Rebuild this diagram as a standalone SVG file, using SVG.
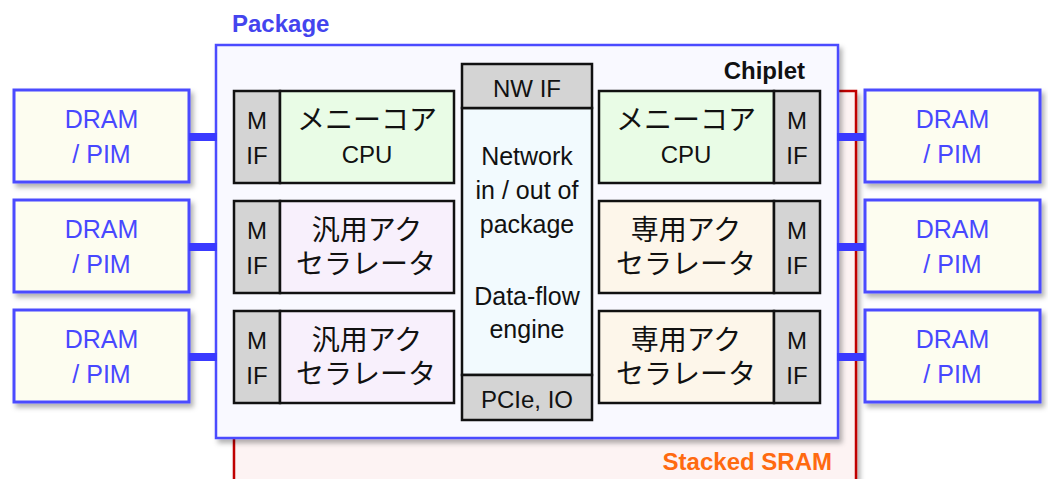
<svg xmlns="http://www.w3.org/2000/svg" width="1048" height="479" viewBox="0 0 1048 479">
<defs>
<filter id="sh" x="-10%" y="-10%" width="130%" height="130%">
<feDropShadow dx="3" dy="4" stdDeviation="2.5" flood-color="#000" flood-opacity="0.3"/>
</filter>
<style>
.dram{fill:#fdfdf0;stroke:#4b4bff;stroke-width:3}
.dt{font-family:"Liberation Sans",Arial,sans-serif;font-size:25px;fill:#4848ff;text-anchor:middle}
.blk{stroke:#111;stroke-width:2.5}
.mif{fill:#d4d4d4}
.cpu{fill:#e9fce6}
.gen{fill:#f8f0fc}
.ded{fill:#fdf6ea}
.col{fill:#f2fafe}
.lt{font-family:"Liberation Sans",Arial,sans-serif;font-size:24px;fill:#111;text-anchor:middle}
.ct{font-family:"Liberation Sans",Arial,sans-serif;font-size:25px;fill:#111;text-anchor:middle}
.jt{font-family:"Noto Sans CJK JP",sans-serif;font-size:28px;fill:#111;text-anchor:middle}
.conn{stroke:#3a3aff;stroke-width:8}
.title{font-family:"Liberation Sans",Arial,sans-serif;font-size:24px;font-weight:bold}
</style>
</defs>

<g id="stacked-sram">
<rect x="234" y="91" width="622" height="420" fill="#fdf3f3" stroke="#c00000" stroke-width="2.5" filter="url(#sh)"/>
<text class="title" x="832" y="470" fill="#ff6a10" text-anchor="end">Stacked SRAM</text>
</g>

<g id="package">
<rect x="216" y="45" width="622" height="393" fill="#f9f9ff" stroke="#4b4bff" stroke-width="2.5" filter="url(#sh)"/>
<text class="title" x="232" y="32" fill="#4444ee">Package</text>
<text class="title" x="805" y="79" fill="#111" text-anchor="end">Chiplet</text>
</g>

<g id="dram-l1"><rect class="dram" x="14" y="90" width="175" height="92" filter="url(#sh)"/><text class="dt" x="101.5" y="128">DRAM</text><text class="dt" x="101.5" y="163">/ PIM</text></g>
<g id="dram-l2"><rect class="dram" x="14" y="200" width="175" height="92" filter="url(#sh)"/><text class="dt" x="101.5" y="238">DRAM</text><text class="dt" x="101.5" y="273">/ PIM</text></g>
<g id="dram-l3"><rect class="dram" x="14" y="310" width="175" height="92" filter="url(#sh)"/><text class="dt" x="101.5" y="348">DRAM</text><text class="dt" x="101.5" y="383">/ PIM</text></g>
<g id="dram-r1"><rect class="dram" x="865" y="90" width="175" height="92" filter="url(#sh)"/><text class="dt" x="952.5" y="128">DRAM</text><text class="dt" x="952.5" y="163">/ PIM</text></g>
<g id="dram-r2"><rect class="dram" x="865" y="200" width="175" height="92" filter="url(#sh)"/><text class="dt" x="952.5" y="238">DRAM</text><text class="dt" x="952.5" y="273">/ PIM</text></g>
<g id="dram-r3"><rect class="dram" x="865" y="310" width="175" height="92" filter="url(#sh)"/><text class="dt" x="952.5" y="348">DRAM</text><text class="dt" x="952.5" y="383">/ PIM</text></g>

<g id="connectors">
<line class="conn" x1="189" y1="137" x2="217" y2="137"/>
<line class="conn" x1="189" y1="247" x2="217" y2="247"/>
<line class="conn" x1="189" y1="357" x2="217" y2="357"/>
<line class="conn" x1="837" y1="137" x2="865" y2="137"/>
<line class="conn" x1="837" y1="247" x2="865" y2="247"/>
<line class="conn" x1="837" y1="357" x2="865" y2="357"/>
</g>

<g id="left-cpu">
<rect class="blk mif" x="234" y="91" width="46" height="92"/>
<rect class="blk cpu" x="280" y="91" width="174" height="92"/>
<text class="lt" x="257" y="129">M</text><text class="lt" x="257" y="164">IF</text>
<text class="jt" x="367" y="130">メニーコア</text>
<text class="lt" x="367" y="163">CPU</text>
</g>
<g id="left-acc1">
<rect class="blk mif" x="234" y="201" width="46" height="92"/>
<rect class="blk gen" x="280" y="201" width="174" height="92"/>
<text class="lt" x="257" y="239">M</text><text class="lt" x="257" y="274">IF</text>
<text class="jt" x="367" y="240">汎用アク</text>
<text class="jt" x="366" y="274">セラレータ</text>
</g>
<g id="left-acc2">
<rect class="blk mif" x="234" y="311" width="46" height="92"/>
<rect class="blk gen" x="280" y="311" width="174" height="92"/>
<text class="lt" x="257" y="349">M</text><text class="lt" x="257" y="384">IF</text>
<text class="jt" x="367" y="350">汎用アク</text>
<text class="jt" x="366" y="384">セラレータ</text>
</g>

<g id="right-cpu">
<rect class="blk cpu" x="599" y="91" width="175" height="92"/>
<rect class="blk mif" x="774" y="91" width="46" height="92"/>
<text class="lt" x="797" y="129">M</text><text class="lt" x="797" y="164">IF</text>
<text class="jt" x="686" y="130">メニーコア</text>
<text class="lt" x="686" y="163">CPU</text>
</g>
<g id="right-acc1">
<rect class="blk ded" x="599" y="201" width="175" height="92"/>
<rect class="blk mif" x="774" y="201" width="46" height="92"/>
<text class="lt" x="797" y="239">M</text><text class="lt" x="797" y="274">IF</text>
<text class="jt" x="686" y="240">専用アク</text>
<text class="jt" x="686" y="274">セラレータ</text>
</g>
<g id="right-acc2">
<rect class="blk ded" x="599" y="311" width="175" height="92"/>
<rect class="blk mif" x="774" y="311" width="46" height="92"/>
<text class="lt" x="797" y="349">M</text><text class="lt" x="797" y="384">IF</text>
<text class="jt" x="686" y="350">専用アク</text>
<text class="jt" x="686" y="384">セラレータ</text>
</g>

<g id="center-column">
<rect class="blk col" x="462" y="108" width="130" height="267"/>
<rect class="blk mif" x="462" y="64" width="130" height="44"/>
<rect class="blk mif" x="462" y="375" width="130" height="45"/>
<text class="lt" x="527" y="97">NW IF</text>
<text class="lt" x="527" y="408">PCIe, IO</text>
<text class="ct" x="527" y="165">Network</text>
<text class="ct" x="527" y="199">in / out of</text>
<text class="ct" x="527" y="233">package</text>
<text class="ct" x="527" y="305">Data-flow</text>
<text class="ct" x="527" y="338">engine</text>
</g>
</svg>
